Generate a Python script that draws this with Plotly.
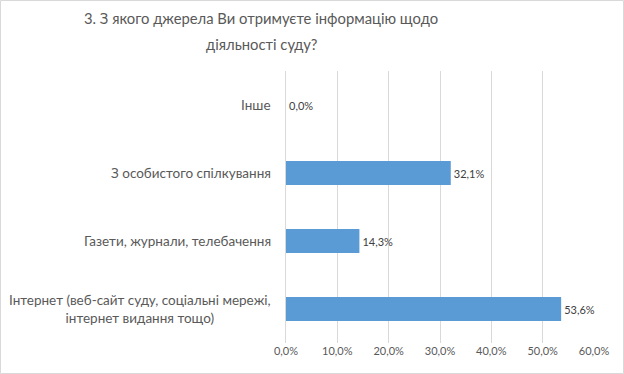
import plotly.graph_objects as go

categories = [
    "Інтернет (веб-сайт суду, соціальні мережі,<br>інтернет видання тощо)",
    "Газети, журнали, телебачення",
    "З особистого спілкування",
    "Інше",
]
values = [0.536, 0.143, 0.321, 0.0]
tick_vals = [0, 0.1, 0.2, 0.3, 0.4, 0.5, 0.6]
title_lines = ["3. З якого джерела Ви отримуєте інформацію щодо", "діяльності суду?"]

W, H = 624, 374
ML, MR, MT, MB = 286, 30, 71, 31
PW, PH = W - ML - MR, H - MT - MB

FONT = "Lato, Noto Sans, sans-serif"
TXT = "#595959"

fig = go.Figure()
fig.add_trace(go.Bar(
    x=values, y=categories, orientation="h",
    marker=dict(color="#5B9BD5", line=dict(width=0)),
    width=0.355,
    texttemplate="%{x:.1%}", textposition="outside",
    textfont=dict(family=FONT, size=11, color="#404040"),
    cliponaxis=False,
))

annotations = []
for c in categories:
    annotations.append(dict(
        x=0, xref="paper", y=c, yref="y", text=c, showarrow=False,
        xanchor="right", yanchor="middle", align="center", xshift=-13,
        font=dict(family=FONT, size=13.5, color=TXT),
    ))
for line, ypix in zip(title_lines, [18, 44]):
    annotations.append(dict(
        x=(261 - ML) / PW, xref="paper", y=1 + (MT - ypix) / PH, yref="paper",
        text=line, showarrow=False, xanchor="center", yanchor="middle",
        font=dict(family=FONT, size=14.8, color=TXT),
    ))

fig.update_layout(
    width=W, height=H,
    margin=dict(l=ML, r=MR, t=MT, b=MB),
    paper_bgcolor="white", plot_bgcolor="white",
    separators=",.",
    showlegend=False,
    xaxis=dict(range=[0, 0.6], tickvals=tick_vals, tickformat=".1%",
               showgrid=True, gridcolor="#D9D9D9", gridwidth=1, zeroline=False,
               showline=False, ticks="",
               tickfont=dict(family=FONT, size=11, color=TXT)),
    yaxis=dict(categoryorder="array", categoryarray=categories,
               range=[-0.5, 3.5], showticklabels=False, showgrid=False,
               showline=True, linecolor="#D9D9D9", linewidth=1, ticks="", zeroline=False),
    annotations=annotations,
    shapes=[dict(type="rect", xref="paper", yref="paper",
                 x0=(-ML + 0.5) / PW, x1=1 + (MR - 0.5) / PW,
                 y0=(-MB + 0.5) / PH, y1=1 + (MT - 0.5) / PH,
                 line=dict(color="#D9D9D9", width=1), layer="below")],
)

fig.write_html("out.html", config={"displayModeBar": False},
               post_script="document.body.style.margin='0';")
